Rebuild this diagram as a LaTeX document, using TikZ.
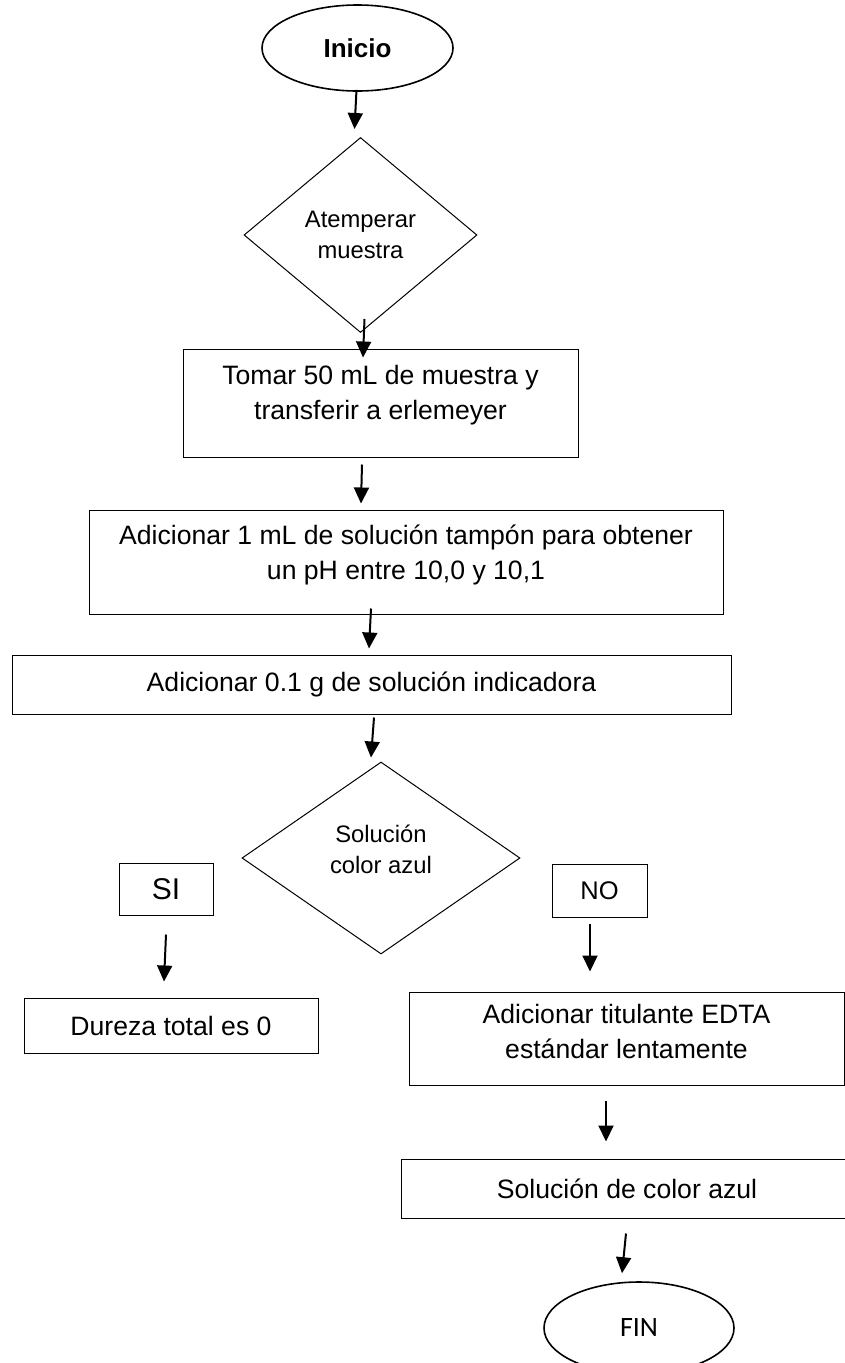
\documentclass[tikz,border=0pt]{standalone}
\usepackage{fontspec}
\setmainfont{Liberation Sans}
\newfontfamily\finfont{Carlito}
\usetikzlibrary{calc,shapes.geometric,arrows.meta}

\begin{document}
\begin{tikzpicture}[x=1pt,y=-1pt,
    txt/.style={font=\fontsize{26.6}{35}\selectfont, align=center},
    procbox/.style={draw, line width=1pt, txt, inner sep=0pt},
    decision/.style={draw, diamond, line width=1pt, inner sep=0pt, align=center,
      font=\fontsize{23.8}{31}\selectfont},
    terminal/.style={draw, ellipse, line width=1.6pt, inner sep=0pt},
    arr/.style={line width=2pt, -{Triangle[length=16pt,width=15pt]}}]
  \useasboundingbox (0,0) rectangle (845,1363);
  % main column
  \node[terminal, minimum width=191pt, minimum height=86pt,
    font=\fontsize{26}{30}\selectfont\bfseries] (ini) at (357.5,48) {Inicio};
  \node[decision, minimum width=233pt, minimum height=195pt] (atemp) at (360.5,235) {Atemperar\\muestra};
  \node[procbox, minimum width=395pt, minimum height=108pt, text depth=22pt] (tomar) at (380.5,403)
    {Tomar 50 mL de muestra y\\transferir a erlemeyer};
  \node[procbox, minimum width=634pt, minimum height=104pt, text depth=20pt] (tampon) at (406,562)
    {Adicionar 1 mL de soluci\'on tamp\'on para obtener\\un pH entre 10,0 y 10,1};
  \node[procbox, minimum width=719pt, minimum height=59pt] (indic) at (371.5,684.5)
    {Adicionar 0.1 g de soluci\'on indicadora};
  \node[decision, minimum width=278pt, minimum height=192pt, text depth=18pt] (azul) at (381,858)
    {Soluci\'on\\color azul};
  % branches
  \node[procbox, minimum width=94pt, minimum height=52pt, font=\fontsize{30}{34}\selectfont] (si) at (166,889) {SI};
  \node[procbox, minimum width=95pt, minimum height=53pt, font=\fontsize{25.5}{30}\selectfont] (no) at (599.5,890.5) {NO};
  \node[procbox, minimum width=294pt, minimum height=55pt] (dureza) at (171,1025.5) {Dureza total es 0};
  \node[procbox, minimum width=435pt, minimum height=93pt, text depth=14pt] (edta) at (626.5,1038.5)
    {Adicionar titulante EDTA\\est\'andar lentamente};
  \node[procbox, minimum width=452pt, minimum height=59pt] (final) at (627,1188.5) {Soluci\'on de color azul};
  \node[terminal, minimum width=190pt, minimum height=92pt,
    font=\finfont\fontsize{28}{32}\selectfont] (fin) at (639,1328) {FIN};
  % arrows
  \draw[arr] ($(ini.south)+(-1,-2)$) -- ($(atemp.north)+(-6,-8)$);
  \draw[arr] ($(atemp.south)+(4,-14)$) -- ($(tomar.north)+(-17.5,9)$);
  \draw[arr] ($(tomar.south)+(-18.5,7)$) -- ($(tampon.north)+(-45,-6)$);
  \draw[arr] ($(tampon.south)+(-35,-6)$) -- ($(indic.north)+(-2.5,-6)$);
  \draw[arr] ($(indic.south)+(2.5,3)$) -- ($(azul.north)+(-10,-4)$);
  \draw[arr] ($(si.south)+(0,19)$) -- ($(dureza.north)+(-7,-16)$);
  \draw[arr] ($(no.south)+(-9.5,6)$) -- ($(edta.north)+(-36.5,-20)$);
  \draw[arr] ($(edta.south)+(-20.5,15)$) -- ($(final.north)+(-21,-17)$);
  \draw[arr] ($(final.south)+(-1,15)$) -- ($(fin.north)+(-17,-8)$);
\end{tikzpicture}
\end{document}
